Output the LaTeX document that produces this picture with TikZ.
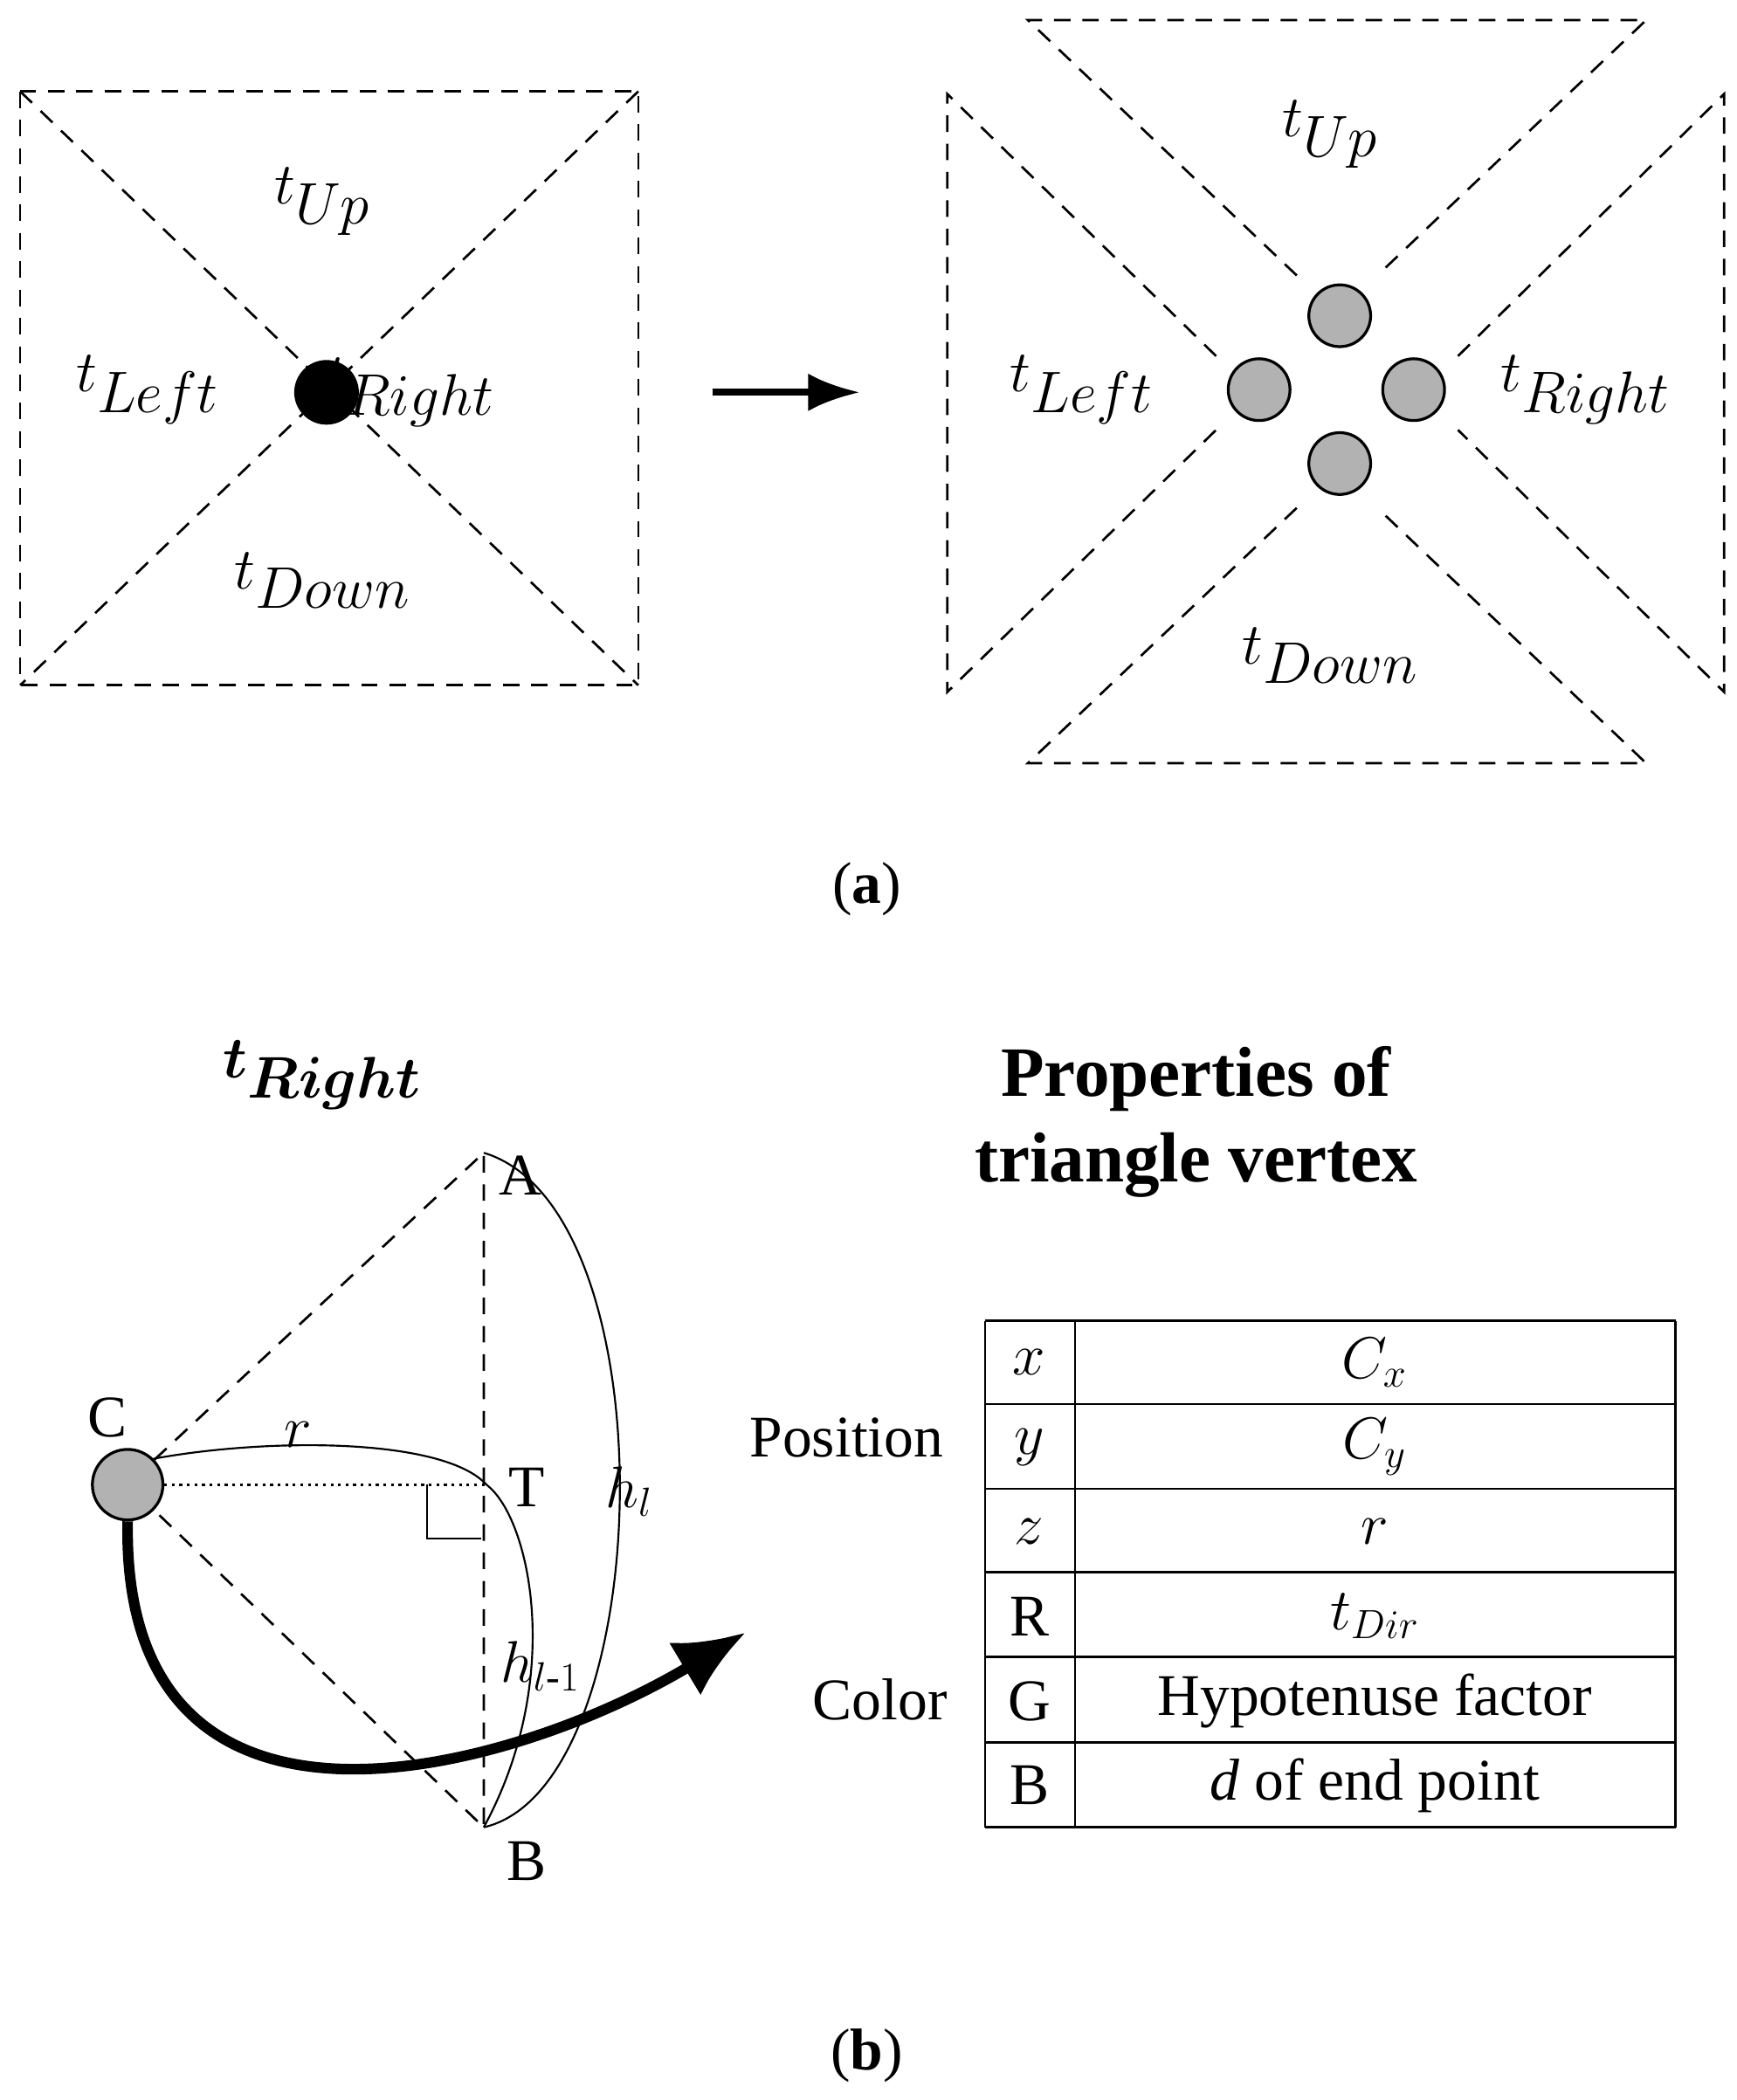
\documentclass[tikz,border=0pt]{standalone}
\usepackage{amsmath,bm}
\usepackage{fontspec}
\setmainfont{Liberation Serif}
\usetikzlibrary{arrows.meta}
\begin{document}
\begin{tikzpicture}[x=0.02cm,y=-0.02cm,
    dsh/.style={dashed,line width=1pt,dash pattern=on 7pt off 5pt},
    vtx/.style={circle,draw,line width=1.2pt,minimum size=0.92cm,inner sep=0pt,fill=gray!60},
    big/.style={font=\fontsize{34}{40}\selectfont},
    mid/.style={font=\fontsize{25}{30}\selectfont},
    cell/.style={mid,anchor=center}]
    \useasboundingbox (0,0) rectangle (1292,1563);

    % (a) left square
    \draw[dsh] (15,68) rectangle (475,510);
    \draw[dsh] (15,68) -- (475,510);
    \draw[dsh] (475,68) -- (15,510);
    \node[big] (tup) at (240,150) {$t_{Up}$};
    \node[big] (tleft) at (110,290) {$t_{Left}$};
    \node[big] (tright) at (305,292) {$t_{Right}$};
    \node[big] (tdown) at (240,432) {$t_{Down}$};
    \node[vtx,fill=black] (dot) at (243,292) {};
    \draw[-{Latex[length=22pt,width=16pt]},line width=3pt] (530,292) -- (640,292);

    % (a) right split
    \draw[dsh] (965,205) -- (765,15) -- (1225,15) -- (1025,205);
    \draw[dsh] (905,265) -- (705,70) -- (705,515) -- (905,320);
    \draw[dsh] (1085,265) -- (1283,70) -- (1283,515) -- (1085,320);
    \draw[dsh] (965,378) -- (765,568) -- (1225,568) -- (1025,378);
    \node[vtx] (vup) at (997,235) {};
    \node[vtx] (vleft) at (937,290) {};
    \node[vtx] (vright) at (1052,290) {};
    \node[vtx] (vdown) at (997,345) {};
    \node[big] at (990,100) {$t_{Up}$};
    \node[big] at (805,290) {$t_{Left}$};
    \node[big] at (1180,290) {$t_{Right}$};
    \node[big] at (990,488) {$t_{Down}$};
    \node[mid] at (645,662) {(\textbf{a})};

    % (b) triangle
    \node[big] at (240,800) {$\bm{t_{Right}}$};
    \node[mid,font=\fontsize{30}{36}\selectfont\bfseries,align=center] at (890,835) {Properties of\\triangle vertex};
    \coordinate (A) at (360,858);
    \coordinate (B) at (360,1360);
    \coordinate (T) at (362,1105);
    \node[vtx,minimum size=1.05cm] (C) at (95,1105) {};
    \node[mid,anchor=west] at (365,875) {A};
    \node[mid] at (392,1385) {B};
    \node[mid] at (392,1107) {T};
    \node[mid] at (80,1055) {C};
    \draw[dsh] (C) -- (A) -- (B) -- (C);
    \draw[dotted,line width=1.2pt] (C) -- (T);
    \draw[line width=0.8pt] (318,1105) -- (318,1145) -- (358,1145);
    \draw[line width=0.8pt] (C.north east) .. controls (200,1070) and (330,1070) .. (T)
        .. controls (395,1130) and (420,1250) .. (B);
    \draw[line width=0.8pt] (A) .. controls (500,900) and (490,1330) .. (B);
    \node[mid] at (222,1068) {$r$};
    \node[mid] at (468,1110) {$h_l$};
    \node[mid] at (402,1240) {$h_{l\text{-}1}$};
    \coordinate (tip) at (555,1215);
    \draw[line width=4.5pt,-{Latex[length=30pt,width=26pt]}] (C.south) .. controls (90,1400) and (380,1320) .. (tip);

    % (b) table
    \foreach \y in {983,1045,1108,1170,1233,1297,1360}
        \draw[line width=1pt] (733,\y) -- (1247,\y);
    \draw[line width=1pt] (733,983) -- (733,1360);
    \draw[line width=1pt] (800,983) -- (800,1360);
    \draw[line width=1pt] (1247,983) -- (1247,1360);
    \foreach \k/\a/\b in {0/$x$/$C_x$,1/$y$/$C_y$,2/$z$/$r$,3/R/$t_{Dir}$,4/G/Hypotenuse factor,5/B/\textit{d} of end point}
        \node[cell] at (766,1014+63*\k) {\a} node[cell] at (1023,1014+63*\k) {\b};
    \node[mid] (pos) at (630,1070) {Position};
    \node[mid] (col) at (655,1265) {Color};
    \node[mid] at (645,1530) {(\textbf{b})};
\end{tikzpicture}
\end{document}
